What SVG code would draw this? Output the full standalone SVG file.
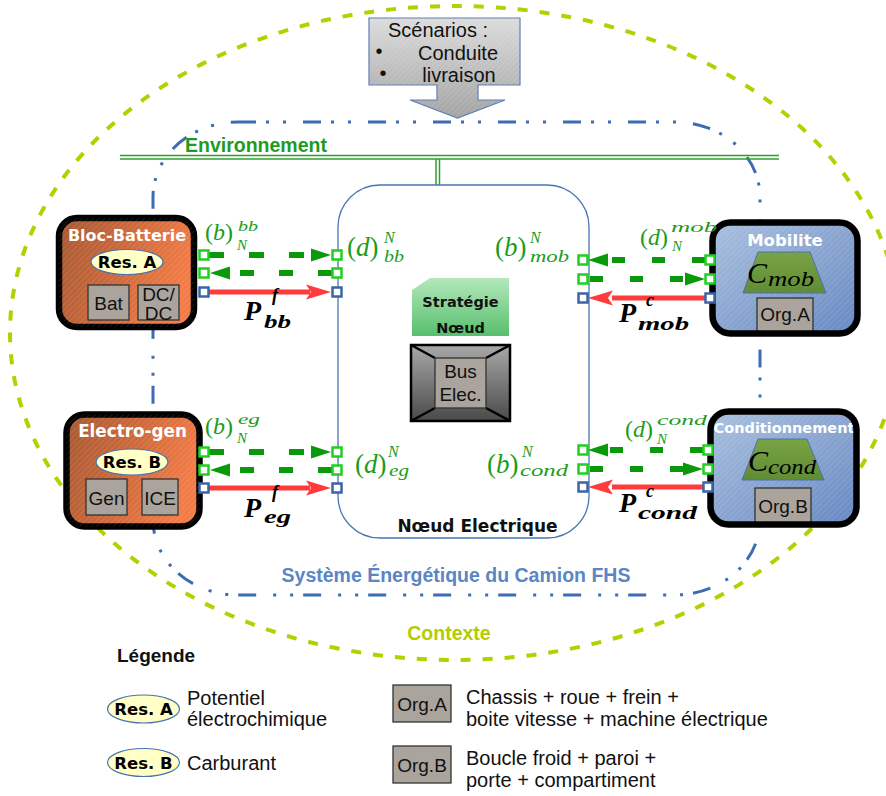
<svg xmlns="http://www.w3.org/2000/svg" width="886" height="796" viewBox="0 0 886 796">
<defs>
<linearGradient id="gBrown" x1="0" y1="0" x2="1" y2="0.3">
<stop offset="0" stop-color="#a65933"/><stop offset="0.55" stop-color="#cf6a3c"/><stop offset="1" stop-color="#f27b46"/>
</linearGradient>
<linearGradient id="gBlue" x1="0" y1="0" x2="1" y2="1">
<stop offset="0" stop-color="#a9c0de"/><stop offset="0.6" stop-color="#839fcd"/><stop offset="1" stop-color="#6589c3"/>
</linearGradient>
<linearGradient id="gTrap" x1="0" y1="0" x2="0" y2="1">
<stop offset="0" stop-color="#7aa345"/><stop offset="1" stop-color="#5f8c34"/>
</linearGradient>
<linearGradient id="gStrat" x1="0" y1="0" x2="0" y2="1">
<stop offset="0" stop-color="#b4e8bc"/><stop offset="1" stop-color="#57bf6d"/>
</linearGradient>
<linearGradient id="gBus" x1="0" y1="0" x2="0" y2="1">
<stop offset="0" stop-color="#a8a8a8"/><stop offset="1" stop-color="#4a4a4a"/>
</linearGradient>
<linearGradient id="gScen" x1="0" y1="0" x2="0" y2="1">
<stop offset="0" stop-color="#dcdcdc"/><stop offset="1" stop-color="#a4a4a4"/>
</linearGradient>
<pattern id="hatch" width="4" height="4" patternUnits="userSpaceOnUse" patternTransform="rotate(45)">
<line x1="0" y1="0" x2="0" y2="4" stroke="#ffffff" stroke-opacity="0.14" stroke-width="1.5"/>
</pattern>
<style>
.ctx{fill:none;stroke:#b6cf00;stroke-width:4;stroke-dasharray:10 12}
.sys{fill:none;stroke:#3d6cb3;stroke-width:3;stroke-dasharray:18 10 3 14 3 17}
.env{stroke:#2ca02c;stroke-width:1.5;fill:none}
.blk{stroke:#000;stroke-width:6.5}
.ttl{font-family:"DejaVu Sans",sans-serif;font-weight:bold;fill:#ffffff;text-anchor:middle}
.res{fill:#ffffc6;stroke:#4a72b0;stroke-width:1.2}
.rest{font-family:"DejaVu Sans",sans-serif;font-weight:bold;font-size:16.5px;fill:#000;text-anchor:middle}
.org{fill:#aaa49c;stroke:#333;stroke-width:1.3}
.lbl{font-family:"Liberation Sans",sans-serif;font-size:19px;fill:#111;text-anchor:middle}
.leg{font-family:"Liberation Sans",sans-serif;font-size:20px;fill:#111}
.pg{fill:#fff;stroke:#1fd01f;stroke-width:2.5}
.pb{fill:#fff;stroke:#3a64a8;stroke-width:2.5}
.gd{stroke:#0a990a;stroke-width:6;fill:none}
.gh{fill:#0a990a}
.rl{stroke:#ff3b3b;stroke-width:5;fill:none}
.rh{fill:#ff3b3b}
.m{font-family:"Liberation Serif",serif;fill:#1c9c1c}
.pm{font-family:"Liberation Serif",serif;font-style:italic;font-weight:bold;fill:#000}
.i{font-style:italic}
</style>
</defs>
<rect width="886" height="796" fill="#ffffff"/>

<g id="contexte">
<ellipse class="ctx" cx="455" cy="333" rx="445" ry="327"/>
<text x="449" y="640" font-family="Liberation Sans, sans-serif" font-weight="bold" font-size="19.5" fill="#b4cc00" text-anchor="middle">Contexte</text>
</g>

<g id="systeme">
<rect class="sys" x="153" y="122" width="607" height="473" rx="85" ry="75"/>
<text x="456" y="582" font-family="Liberation Sans, sans-serif" font-weight="bold" font-size="19.5" fill="#5a86c4" text-anchor="middle">Système Énergétique du Camion FHS</text>
</g>

<g id="environnement">
<line class="env" x1="120" y1="155.5" x2="779" y2="155.5"/>
<line class="env" x1="120" y1="159" x2="779" y2="159"/>
<line class="env" x1="436" y1="159" x2="436" y2="186"/>
<line class="env" x1="439.5" y1="159" x2="439.5" y2="186"/>
<text x="185" y="152" font-family="Liberation Sans, sans-serif" font-weight="bold" font-size="19.5" fill="#1f9b1f">Environnement</text>
</g>

<g id="scenarios">
<path d="M369,18 H520 V85 H478 V100 H505 L457.5,118 L410,100 H437 V85 H369 Z" fill="url(#gScen)" stroke="#5b7fb5" stroke-width="1.2"/>
<path d="M369,18 H520 V85 H478 V100 H505 L457.5,118 L410,100 H437 V85 H369 Z" fill="url(#hatch)"/>
<text class="leg" x="438" y="37" text-anchor="middle">Scénarios :</text>
<text class="leg" x="379" y="58" text-anchor="middle" font-size="14">•</text>
<text class="leg" x="458" y="60" text-anchor="middle">Conduite</text>
<text class="leg" x="383" y="80" text-anchor="middle" font-size="14">•</text>
<text class="leg" x="459" y="82" text-anchor="middle">livraison</text>
</g>

<g id="noeud-electrique">
<rect x="338" y="185" width="251" height="353" rx="42" ry="42" fill="#ffffff" stroke="#4a74b4" stroke-width="1.3"/>
<path d="M430,278 H509 V336 H412 V290 Z" fill="url(#gStrat)"/>
<text x="460.5" y="307" font-family="DejaVu Sans, sans-serif" font-weight="bold" font-size="14.5" fill="#111" text-anchor="middle">Stratégie</text>
<text x="460.5" y="333" font-family="DejaVu Sans, sans-serif" font-weight="bold" font-size="14.5" fill="#111" text-anchor="middle">Nœud</text>
<rect x="411" y="345" width="99" height="76" fill="url(#gBus)" stroke="#000" stroke-width="2.5"/>
<path d="M411,345 L435,358 M510,345 L486,358 M411,421 L435,408 M510,421 L486,408" stroke="#000" stroke-width="2.5"/>
<rect class="org" x="435" y="358" width="51" height="50"/>
<text class="lbl" x="460.5" y="378" font-size="20">Bus</text>
<text class="lbl" x="460.5" y="401" font-size="20">Elec.</text>
<text x="477.5" y="532" font-family="DejaVu Sans, sans-serif" font-weight="bold" font-size="17" fill="#111" text-anchor="middle">Nœud Electrique</text>
</g>

<g id="bloc-batterie">
<rect class="blk" x="59" y="218" width="135" height="109" rx="18" fill="url(#gBrown)"/>
<rect x="59" y="218" width="135" height="109" rx="18" fill="url(#hatch)"/>
<text class="ttl" x="127" y="241" font-size="16">Bloc-Batterie</text>
<ellipse class="res" cx="127" cy="262" rx="36" ry="12.5"/>
<text class="rest" x="127" y="268">Res. A</text>
<rect class="org" x="88" y="285" width="41" height="35"/>
<text class="lbl" x="108.5" y="310">Bat</text>
<rect class="org" x="138" y="285" width="41" height="35"/>
<text class="lbl" x="158.5" y="301">DC/</text>
<text class="lbl" x="158.5" y="320">DC</text>
</g>

<g id="electro-gen">
<rect class="blk" x="66.5" y="414.5" width="133" height="112" rx="18" fill="url(#gBrown)"/>
<rect x="66.5" y="414.5" width="133" height="112" rx="18" fill="url(#hatch)"/>
<text class="ttl" x="132.5" y="437" font-size="16.8">Electro-gen</text>
<ellipse class="res" cx="132" cy="462" rx="36" ry="13"/>
<text class="rest" x="132" y="468">Res. B</text>
<rect class="org" x="86" y="479" width="41" height="36"/>
<text class="lbl" x="106.5" y="505">Gen</text>
<rect class="org" x="142" y="479" width="36" height="36"/>
<text class="lbl" x="160" y="505">ICE</text>
</g>

<g id="mobilite">
<rect x="712.5" y="222.5" width="145" height="111" rx="18" fill="url(#gBlue)"/>
<rect x="712.5" y="222.5" width="145" height="111" rx="18" fill="url(#hatch)"/>
<text class="ttl" x="785" y="246" font-size="16.5">Mobilite</text>
<path d="M758,252 H810 L826,293 H743 Z" fill="url(#gTrap)" stroke="#4a72b0" stroke-width="1"/>
<text x="747" y="283" font-family="Liberation Serif, serif" font-style="italic" font-size="30" fill="#000">C</text>
<text x="768" y="286" font-family="Liberation Serif, serif" font-style="italic" font-size="21" fill="#000" textLength="46" lengthAdjust="spacingAndGlyphs">mob</text>
<rect class="org" x="757" y="298" width="56" height="36"/>
<text class="lbl" x="785" y="321" font-size="20">Org.A</text>
<rect x="712.5" y="222.5" width="145" height="111" rx="18" fill="none" stroke="#000" stroke-width="6.5"/>
</g>

<g id="conditionnement">
<rect x="710.5" y="411.5" width="146" height="113" rx="18" fill="url(#gBlue)"/>
<rect x="710.5" y="411.5" width="146" height="113" rx="18" fill="url(#hatch)"/>
<text class="ttl" x="784" y="433" font-size="14.5">Conditionnement</text>
<path d="M758,439 H807 L824,480 H742 Z" fill="url(#gTrap)" stroke="#4a72b0" stroke-width="1"/>
<text x="748" y="471" font-family="Liberation Serif, serif" font-style="italic" font-size="30" fill="#000">C</text>
<text x="768" y="474" font-family="Liberation Serif, serif" font-style="italic" font-size="21" fill="#000" textLength="48" lengthAdjust="spacingAndGlyphs">cond</text>
<rect class="org" x="755" y="488" width="56" height="35"/>
<text class="lbl" x="783" y="513" font-size="20">Org.B</text>
<rect x="710.5" y="411.5" width="146" height="113" rx="18" fill="none" stroke="#000" stroke-width="6.5"/>
</g>

<g id="connectors">
<path class="gd" d="M209,255 H311" stroke-dasharray="15 25"/>
<polygon class="gh" points="331,255 311,248.5 311,261.5"/>
<path class="gd" d="M332,273 H229" stroke-dasharray="14 25"/>
<polygon class="gh" points="210,273 230,266.5 230,279.5"/>
<path class="rl" d="M209,292 H310"/>
<polygon class="rh" points="331,292 306,284.5 311,292 306,299.5"/>
<path class="gd" d="M209,452 H311" stroke-dasharray="15 25"/>
<polygon class="gh" points="331,452 311,445.5 311,458.5"/>
<path class="gd" d="M332,470 H229" stroke-dasharray="14 25"/>
<polygon class="gh" points="210,470 230,463.5 230,476.5"/>
<path class="rl" d="M209,488 H310"/>
<polygon class="rh" points="331,488 306,480.5 311,488 306,495.5"/>
<path class="gd" d="M705,260 H608" stroke-dasharray="13 27"/>
<polygon class="gh" points="588,260 608,253.5 608,266.5"/>
<path class="gd" d="M590,279 H685" stroke-dasharray="13 27"/>
<polygon class="gh" points="705,279 685,272.5 685,285.5"/>
<path class="rl" d="M705,298 H612"/>
<polygon class="rh" points="588,298 613,290.5 608,298 613,305.5"/>
<path class="gd" d="M703,450 H608" stroke-dasharray="13 27"/>
<polygon class="gh" points="588,450 608,443.5 608,456.5"/>
<path class="gd" d="M590,469 H684" stroke-dasharray="13 27"/>
<polygon class="gh" points="703,469 683,462.5 683,475.5"/>
<path class="rl" d="M703,487 H612"/>
<polygon class="rh" points="588,487 613,479.5 608,487 613,494.5"/>
</g>

<g id="ports">
<rect class="pg" x="199.5" y="250.5" width="9" height="9"/>
<rect class="pg" x="199.5" y="268.5" width="9" height="9"/>
<rect class="pb" x="199.5" y="287.5" width="9" height="9"/>
<rect class="pg" x="332.5" y="250.5" width="9" height="9"/>
<rect class="pg" x="332.5" y="268.5" width="9" height="9"/>
<rect class="pb" x="332.5" y="287.5" width="9" height="9"/>
<rect class="pg" x="199.5" y="447.5" width="9" height="9"/>
<rect class="pg" x="199.5" y="465.5" width="9" height="9"/>
<rect class="pb" x="199.5" y="483.5" width="9" height="9"/>
<rect class="pg" x="332.5" y="447.5" width="9" height="9"/>
<rect class="pg" x="332.5" y="465.5" width="9" height="9"/>
<rect class="pb" x="332.5" y="483.5" width="9" height="9"/>
<rect class="pg" x="578.5" y="255.5" width="9" height="9"/>
<rect class="pg" x="578.5" y="274.5" width="9" height="9"/>
<rect class="pb" x="578.5" y="293.5" width="9" height="9"/>
<rect class="pg" x="705.5" y="255.5" width="9" height="9"/>
<rect class="pg" x="705.5" y="274.5" width="9" height="9"/>
<rect class="pb" x="705.5" y="293.5" width="9" height="9"/>
<rect class="pg" x="578.5" y="445.5" width="9" height="9"/>
<rect class="pg" x="578.5" y="464.5" width="9" height="9"/>
<rect class="pb" x="578.5" y="482.5" width="9" height="9"/>
<rect class="pg" x="703.5" y="445.5" width="9" height="9"/>
<rect class="pg" x="703.5" y="464.5" width="9" height="9"/>
<rect class="pb" x="703.5" y="482.5" width="9" height="9"/>
</g>

<g id="labels">
<text class="m" x="205" y="240" font-size="24">(<tspan class="i">b</tspan>)</text>
<text class="m i" x="238" y="231" font-size="15" textLength="20" lengthAdjust="spacingAndGlyphs">bb</text>
<text class="m i" x="237" y="250" font-size="15">N</text>
<text class="m" x="205" y="434" font-size="24">(<tspan class="i">b</tspan>)</text>
<text class="m i" x="238" y="424" font-size="15" textLength="22" lengthAdjust="spacingAndGlyphs">eg</text>
<text class="m i" x="237" y="443" font-size="15">N</text>
<text class="m" x="640" y="245" font-size="24">(<tspan class="i">d</tspan>)</text>
<text class="m i" x="671" y="232" font-size="15" textLength="46" lengthAdjust="spacingAndGlyphs">mob</text>
<text class="m i" x="672" y="251" font-size="15">N</text>
<text class="m" x="625" y="437" font-size="24">(<tspan class="i">d</tspan>)</text>
<text class="m i" x="657" y="425" font-size="15" textLength="50" lengthAdjust="spacingAndGlyphs">cond</text>
<text class="m i" x="657" y="444" font-size="15">N</text>

<text class="m" x="347" y="256" font-size="27">(<tspan class="i">d</tspan>)</text>
<text class="m i" x="384" y="243" font-size="16">N</text>
<text class="m i" x="384" y="262" font-size="16" textLength="20" lengthAdjust="spacingAndGlyphs">bb</text>
<text class="m" x="495" y="256" font-size="27">(<tspan class="i">b</tspan>)</text>
<text class="m i" x="530" y="243" font-size="16">N</text>
<text class="m i" x="530" y="262" font-size="16" textLength="39" lengthAdjust="spacingAndGlyphs">mob</text>
<text class="m" x="355" y="473" font-size="27">(<tspan class="i">d</tspan>)</text>
<text class="m i" x="388" y="457" font-size="16">N</text>
<text class="m i" x="389" y="476" font-size="16" textLength="20" lengthAdjust="spacingAndGlyphs">eg</text>
<text class="m" x="487" y="473" font-size="27">(<tspan class="i">b</tspan>)</text>
<text class="m i" x="522" y="457" font-size="16">N</text>
<text class="m i" x="520" y="476" font-size="16" textLength="48" lengthAdjust="spacingAndGlyphs">cond</text>

<text class="pm" x="244" y="320" font-size="28">P</text>
<text class="pm" x="272" y="301" font-size="18">f</text>
<text class="pm" x="264" y="328" font-size="18" textLength="27" lengthAdjust="spacingAndGlyphs">bb</text>
<text class="pm" x="244" y="517" font-size="28">P</text>
<text class="pm" x="272" y="498" font-size="18">f</text>
<text class="pm" x="264" y="523" font-size="18" textLength="27" lengthAdjust="spacingAndGlyphs">eg</text>
<text class="pm" x="619" y="322" font-size="28">P</text>
<text class="pm" x="646" y="306" font-size="18">c</text>
<text class="pm" x="638" y="330" font-size="18" textLength="51" lengthAdjust="spacingAndGlyphs">mob</text>
<text class="pm" x="619" y="512" font-size="28">P</text>
<text class="pm" x="646" y="497" font-size="18">c</text>
<text class="pm" x="638" y="519" font-size="18" textLength="59" lengthAdjust="spacingAndGlyphs">cond</text>
</g>

<g id="legende">
<text x="117" y="662" font-family="Liberation Sans, sans-serif" font-weight="bold" font-size="19" fill="#111">Légende</text>
<ellipse class="res" cx="143.5" cy="709" rx="36" ry="14"/>
<text class="rest" x="143.5" y="715">Res. A</text>
<text class="leg" x="187" y="705">Potentiel</text>
<text class="leg" x="187" y="726">électrochimique</text>
<ellipse class="res" cx="143.5" cy="762.5" rx="36" ry="14"/>
<text class="rest" x="143.5" y="768.5">Res. B</text>
<text class="leg" x="187" y="770">Carburant</text>
<rect class="org" x="393" y="685" width="58" height="37"/>
<text class="lbl" x="422" y="711" font-size="20">Org.A</text>
<text class="leg" x="466" y="704">Chassis + roue + frein +</text>
<text class="leg" x="466" y="726">boite vitesse + machine électrique</text>
<rect class="org" x="393" y="746" width="58" height="37"/>
<text class="lbl" x="422" y="772" font-size="20">Org.B</text>
<text class="leg" x="466" y="765">Boucle froid + paroi +</text>
<text class="leg" x="466" y="787">porte + compartiment</text>
</g>
</svg>
